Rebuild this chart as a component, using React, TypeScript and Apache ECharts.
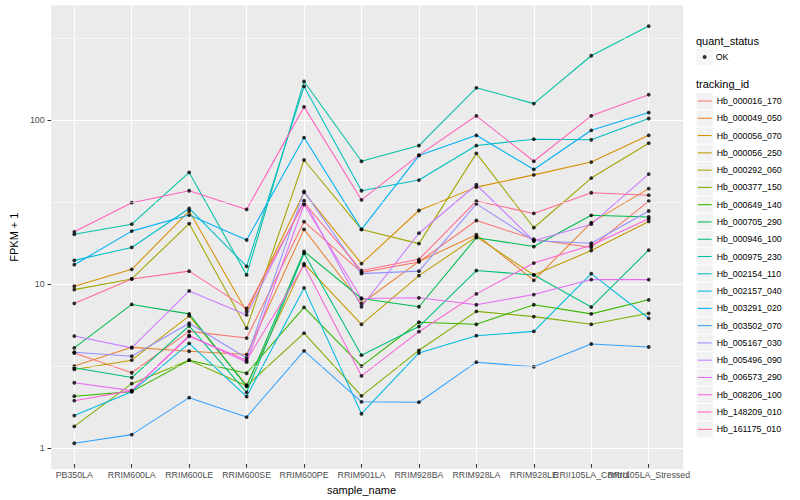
import React, { useEffect, useRef } from 'react';
import * as echarts from 'echarts';

const FONT = '"Liberation Sans", Arial, Helvetica, sans-serif';

const categories = [
  'PB350LA', 'RRIM600LA', 'RRIM600LE', 'RRIM600SE', 'RRIM600PE', 'RRIM901LA',
  'RRIM928BA', 'RRIM928LA', 'RRIM928LE', 'RRII105LA_Control', 'RRII105LA_Stressed',
];

const trackingIds = [
  'Hb_000016_170', 'Hb_000049_050', 'Hb_000056_070', 'Hb_000056_250', 'Hb_000292_060',
  'Hb_000377_150', 'Hb_000649_140', 'Hb_000705_290', 'Hb_000946_100', 'Hb_000975_230',
  'Hb_002154_110', 'Hb_002157_040', 'Hb_003291_020', 'Hb_003502_070', 'Hb_005167_030',
  'Hb_005496_090', 'Hb_006573_290', 'Hb_008206_100', 'Hb_148209_010', 'Hb_161175_010',
];

const palette = [
  '#F8766D', '#EA8331', '#D89000', '#C09B00', '#A3A500', '#7CAE00', '#39B600', '#00BB4E',
  '#00BF7D', '#00C1A3', '#00BFC4', '#00BAE0', '#00B0F6', '#35A2FF', '#9590FF', '#C77CFF',
  '#E76BF3', '#FA62DB', '#FF62BC', '#FF6C91',
];

// FPKM + 1 values per sample (same order as categories)
const hb000016_170 = [3.6, 2.72, 4.89, 4.45, 23.2, 11.3, 13.1, 23.6, 18.1, 16.1, 31.1];
const hb000049_050 = [2.99, 3.9, 3.69, 3.52, 20.8, 7.27, 13.2, 19.3, 10.1, 22.9, 37.1];
const hb000056_070 = [9.28, 11.8, 27.0, 6.47, 35.2, 12.8, 27.2, 37.9, 45.1, 54.1, 79.1];
const hb000056_250 = [2.85, 3.25, 6.09, 2.28, 12.8, 5.41, 10.8, 18.7, 10.9, 15.4, 23.3];
const hb000292_060 = [8.85, 10.3, 22.6, 5.12, 55.7, 20.8, 17.0, 61.2, 21.3, 43.1, 70.7];
const hb000377_150 = [1.27, 2.33, 3.25, 2.26, 4.77, 1.96, 3.74, 6.5, 6.03, 5.41, 6.32];
const hb000649_140 = [1.95, 2.08, 3.25, 2.7, 6.87, 2.99, 5.57, 5.41, 7.14, 6.27, 7.66];
const hb000705_290 = [3.87, 7.17, 6.27, 2.24, 15.2, 7.8, 6.94, 18.5, 16.3, 25.4, 24.8];
const hb000946_100 = [2.92, 2.54, 5.29, 2.06, 14.8, 3.49, 5.24, 11.6, 10.9, 6.91, 15.5];
const hb000975_230 = [19.4, 22.4, 46.7, 10.9, 169.8, 54.7, 68.4, 155.2, 124, 244.6, 372.6];
const hb002154_110 = [13.4, 16.1, 28.0, 12.3, 158.3, 36.0, 41.9, 68.4, 74.8, 74.2, 100.4];
const hb002157_040 = [1.48, 2.08, 4.13, 1.94, 9.07, 1.52, 3.6, 4.6, 4.89, 11.1, 5.89];
const hb003291_020 = [12.6, 20.3, 25.5, 17.9, 76.6, 20.8, 59.3, 79.1, 48.7, 84.9, 109.2];
const hb003502_070 = [1.0, 1.13, 1.91, 1.45, 3.71, 1.8, 1.79, 3.16, 2.96, 4.09, 3.92];
const hb005167_030 = [3.64, 3.44, 5.49, 3.35, 35.7, 11.1, 11.5, 29.9, 17.7, 17.1, 27.0];
const hb005496_090 = [4.58, 3.87, 8.69, 6.18, 31.3, 6.94, 19.7, 39.2, 17.7, 22.4, 45.6];
const hb006573_290 = [2.36, 2.11, 4.62, 3.16, 29.6, 7.8, 7.88, 7.14, 8.25, 10.2, 10.2];
const hb008206_100 = [1.83, 2.11, 4.56, 3.25, 12.5, 2.6, 4.87, 8.33, 12.9, 16.6, 24.2];
const hb148209_010 = [20.1, 30.4, 36.0, 27.6, 118.4, 31.6, 59.7, 104.3, 54.7, 104.3, 140.7];
const hb161175_010 = [7.27, 10.3, 11.5, 6.78, 30.4, 11.6, 13.6, 31.1, 26.1, 35.0, 33.8];

const seriesValues = [
  hb000016_170, hb000049_050, hb000056_070, hb000056_250, hb000292_060,
  hb000377_150, hb000649_140, hb000705_290, hb000946_100, hb000975_230,
  hb002154_110, hb002157_040, hb003291_020, hb003502_070, hb005167_030,
  hb005496_090, hb006573_290, hb008206_100, hb148209_010, hb161175_010,
];

// y axis (log10) range and minor break positions
const yMin = 0.7437;
const yMax = 501.2;
const minorBreaks = [3.1623, 31.623, 316.23];

export default function App() {
  const ref = useRef<HTMLDivElement>(null);

  useEffect(() => {
    document.body.style.margin = '0';
    const chart = echarts.init(ref.current as HTMLDivElement, undefined, { renderer: 'svg' });

    const panel = { left: 39.8, right: 116.8, top: 5.2, bottom: 30.9 };
    const inner = { left: 74.3, right: 151.3, top: 5.2, bottom: 30.9 };
    const keyLeft = 696.5;
    const keySize = 16.3;
    const keyPitch = 17.28;
    const okCenter = 57;
    const firstKeyCenter = 101;

    const points: number[][] = [];
    seriesValues.forEach((vals) => vals.forEach((v, j) => points.push([j, v])));

    const lineSeries = trackingIds.map((id, i) => ({
      name: id,
      type: 'line',
      xAxisIndex: 1,
      yAxisIndex: 1,
      data: seriesValues[i],
      symbol: 'none',
      showSymbol: false,
      lineStyle: { color: palette[i], width: 1.07 },
      itemStyle: { color: palette[i] },
      emphasis: { disabled: true },
      silent: true,
      z: 2,
    }));

    const tickStyle = { show: true, length: 3.67, lineStyle: { color: '#333333', width: 1.07 } };
    const labelStyle = { fontSize: 8.8, color: '#4D4D4D', fontFamily: FONT };

    const option: any = {
      animation: false,
      backgroundColor: '#FFFFFF',
      textStyle: { fontFamily: FONT },
      grid: [
        { ...panel, show: true, backgroundColor: '#EBEBEB', borderWidth: 0 },
        { ...inner },
      ],
      xAxis: [
        { gridIndex: 0, type: 'value', min: 0, max: 1, show: false },
        {
          gridIndex: 1,
          type: 'category',
          data: categories,
          boundaryGap: false,
          axisLine: { show: false },
          axisTick: tickStyle,
          axisLabel: { ...labelStyle, interval: 0, margin: 6 },
          splitLine: { show: true, lineStyle: { color: '#FFFFFF', width: 1.07 } },
          name: 'sample_name',
          nameLocation: 'middle',
          nameGap: 15,
          nameTextStyle: { fontSize: 11, color: '#000000', fontFamily: FONT },
        },
      ],
      yAxis: [
        {
          gridIndex: 0,
          type: 'log',
          logBase: 10,
          min: yMin,
          max: yMax,
          axisLine: { show: false },
          axisTick: tickStyle,
          axisLabel: { ...labelStyle, margin: 6.6, showMinLabel: false, showMaxLabel: false },
          splitLine: {
            show: true,
            showMinLine: false,
            showMaxLine: false,
            lineStyle: { color: '#FFFFFF', width: 1.07 },
          },
          name: 'FPKM + 1',
          nameLocation: 'middle',
          nameGap: 22,
          nameTextStyle: { fontSize: 11, color: '#000000', fontFamily: FONT },
        },
        { gridIndex: 1, type: 'log', logBase: 10, min: yMin, max: yMax, show: false },
      ],
      legend: [
        {
          data: ['OK'],
          orient: 'vertical',
          left: keyLeft,
          top: okCenter - keySize / 2,
          itemWidth: keySize,
          itemHeight: keySize,
          itemGap: keyPitch - keySize,
          padding: 0,
          icon: 'rect',
          selectedMode: false,
          itemStyle: { color: '#F2F2F2', borderWidth: 0 },
          formatter: () => '',
          textStyle: { fontSize: 8.8 },
        },
        {
          data: ['OK'],
          orient: 'vertical',
          left: keyLeft + (keySize - 4) / 2,
          top: okCenter - keyPitch / 2,
          itemWidth: 4,
          itemHeight: 4,
          itemGap: 0,
          padding: 0,
          icon: 'circle',
          selectedMode: false,
          itemStyle: { color: '#000000', borderWidth: 0 },
          textStyle: { fontSize: 8.8, color: '#000000', lineHeight: keyPitch, fontFamily: FONT, padding: [0, 0, 0, 4] },
        },
        {
          data: trackingIds,
          orient: 'vertical',
          left: keyLeft,
          top: firstKeyCenter - keySize / 2,
          itemWidth: keySize,
          itemHeight: keySize,
          itemGap: keyPitch - keySize,
          padding: 0,
          icon: 'rect',
          selectedMode: false,
          itemStyle: { color: '#F2F2F2', borderWidth: 0 },
          formatter: () => '',
          textStyle: { fontSize: 8.8 },
        },
        {
          data: trackingIds,
          orient: 'vertical',
          left: keyLeft + (keySize - 14) / 2,
          top: firstKeyCenter - keyPitch / 2,
          itemWidth: 14,
          itemHeight: 1.07,
          itemGap: 0,
          padding: 0,
          icon: 'rect',
          selectedMode: false,
          itemStyle: { borderWidth: 0 },
          textStyle: { fontSize: 8.8, color: '#000000', lineHeight: keyPitch, fontFamily: FONT },
        },
      ],
      graphic: [
        {
          type: 'text',
          x: 696,
          y: 41,
          silent: true,
          style: { text: 'quant_status', font: `11px ${FONT}`, fill: '#000000', verticalAlign: 'middle' },
        },
        {
          type: 'text',
          x: 696,
          y: 84,
          silent: true,
          style: { text: 'tracking_id', font: `11px ${FONT}`, fill: '#000000', verticalAlign: 'middle' },
        },
      ],
      series: [
        {
          name: 'minor-grid',
          type: 'line',
          xAxisIndex: 0,
          yAxisIndex: 0,
          data: [],
          z: 1,
          silent: true,
          markLine: {
            silent: true,
            symbol: ['none', 'none'],
            label: { show: false },
            lineStyle: { color: '#FFFFFF', width: 0.53, type: 'solid' },
            emphasis: { disabled: true },
            data: minorBreaks.map((v) => ({ yAxis: v })),
          },
        },
        ...lineSeries,
        {
          name: 'OK',
          type: 'scatter',
          xAxisIndex: 1,
          yAxisIndex: 1,
          data: points,
          symbol: 'circle',
          symbolSize: 3.8,
          itemStyle: { color: '#000000' },
          emphasis: { disabled: true },
          silent: true,
          z: 3,
        },
      ],
    };

    chart.setOption(option);
    return () => chart.dispose();
  }, []);

  return <div ref={ref} style={{ width: 800, height: 500 }} />;
}
